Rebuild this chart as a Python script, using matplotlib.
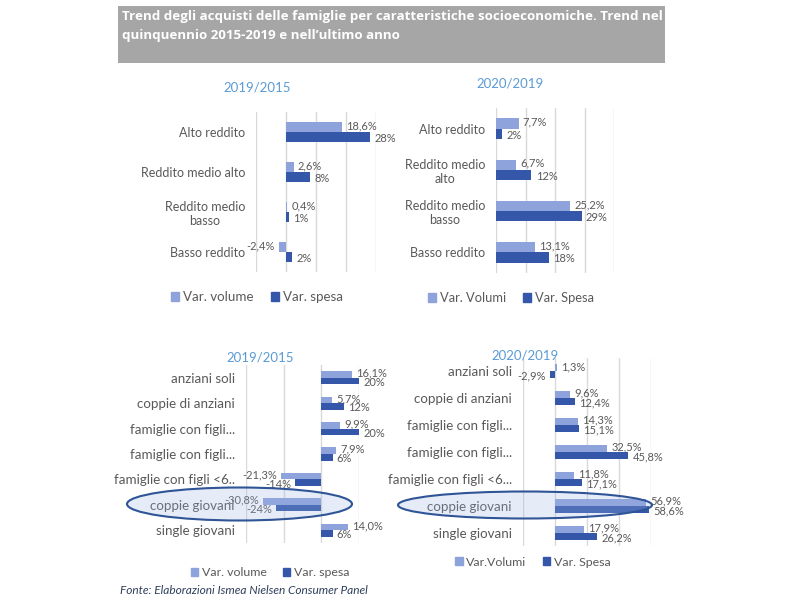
import matplotlib
matplotlib.use("Agg")
import matplotlib.pyplot as plt
from matplotlib.patches import Rectangle, Ellipse, Patch

plt.rcParams['font.family'] = ['Lato', 'DejaVu Sans']

# ---------------- data ----------------
title_text = ("Trend degli acquisti delle famiglie per caratteristiche socioeconomiche. Trend nel\n"
              "quinquennio 2015-2019 e nell\u2019ultimo anno")
source_text = "Fonte: Elaborazioni Ismea Nielsen Consumer Panel"

income_cats_tl = ["Alto reddito", "Reddito medio alto", "Reddito medio\nbasso", "Basso reddito"]
income_cats_tr = ["Alto reddito", "Reddito medio\nalto", "Reddito medio\nbasso", "Basso reddito"]
income_vol_1915 = [18.6, 2.6, 0.4, -2.4]
income_sp_1915 = [28, 8, 1, 2]
income_vol_2019 = [7.7, 6.7, 25.2, 13.1]
income_sp_2019 = [2, 12, 29, 18]

family_cats_bl = ["anziani soli", "coppie di anziani", "famiglie con figli...", "famiglie con figli...",
                  "famiglie con figli <6..", "coppie giovani", "single giovani"]
family_cats_br = ["anziani soli", "coppie di anziani", "famiglie con figli...", "famiglie con figli...",
                  "famiglie con figli <6...", "coppie giovani", "single giovani"]
family_vol_1915 = [16.1, 5.7, 9.9, 7.9, -21.3, -30.8, 14.0]
family_sp_1915 = [20, 12, 20, 6, -14, -24, 6]
family_vol_2019 = [1.3, 9.6, 14.3, 32.5, 11.8, 56.9, 17.9]
family_sp_2019 = [-2.9, 12.4, 15.1, 45.8, 17.1, 58.6, 26.2]

panel_titles = ["2019/2015", "2020/2019", "2019/2015", "2020/2019"]
legend_labels = [("Var. volume", "Var. spesa"), ("Var. Volumi", "Var. Spesa"),
                 ("Var. volume", "Var. spesa"), ("Var.Volumi", "Var. Spesa")]

# ---------------- style ----------------
LIGHT = "#8EA2DC"
DARK = "#3557AA"
GRID = "#D9D9D9"
TXT = "#595959"
TITLE_BLUE = "#5B9BD5"

W, H = 800, 600
fig = plt.figure(figsize=(8, 6), dpi=100)
fig.patch.set_facecolor("white")


def fx(x):
    return x / W


def fy(y):
    return 1 - y / H


def fmt(v, dec):
    return (f"{v:.{dec}f}%").replace(".", ",")


def panel(box, cats, vol, sp, xlim, step, ptitle, title_xy, leg, leg_xy, sp_dec, bh,
          cat_fs, leg_fs):
    x0, y0, x1, y1 = box
    ax = fig.add_axes([fx(x0), fy(y1), fx(x1) - fx(x0), (y1 - y0) / H])
    n = len(cats)
    ys = list(range(n))
    ax.barh([y - bh / 2 for y in ys], vol, height=bh, color=LIGHT, zorder=3)
    ax.barh([y + bh / 2 for y in ys], sp, height=bh, color=DARK, zorder=3)
    for y, v in zip(ys, vol):
        ax.annotate(fmt(v, 1), (v, y - bh / 2), xytext=(3 if v >= 0 else -3, 1),
                    textcoords="offset points", ha="left" if v >= 0 else "right",
                    va="center", fontsize=8, color=TXT, annotation_clip=False, zorder=5)
    for y, v in zip(ys, sp):
        ax.annotate(fmt(v, sp_dec), (v, y + bh / 2), xytext=(3 if v >= 0 else -3, -1),
                    textcoords="offset points", ha="left" if v >= 0 else "right",
                    va="center", fontsize=8, color=TXT, annotation_clip=False, zorder=5)
    ax.set_ylim(n - 0.5, -0.5)
    ax.set_xlim(*xlim)
    ticks = list(range(xlim[0], xlim[1] + 1, step))
    ax.set_xticks(ticks)
    ax.set_xticklabels([])
    ax.tick_params(axis="x", length=0)
    ax.grid(axis="x", color=GRID, lw=1, zorder=0)
    ax.set_yticks(ys)
    ax.set_yticklabels(cats, fontsize=cat_fs, color=TXT, multialignment="center")
    ax.tick_params(axis="y", length=0, pad=8)
    for s in ax.spines.values():
        s.set_visible(False)
    ax.set_facecolor("none")
    fig.text(fx(title_xy[0]), fy(title_xy[1]), ptitle, ha="center", va="center",
             fontsize=9.5, color=TITLE_BLUE)
    handles = [Patch(color=LIGHT), Patch(color=DARK)]
    fig.legend(handles, leg, loc="center", bbox_to_anchor=(fx(leg_xy[0]), fy(leg_xy[1])),
               ncol=2, frameon=False, fontsize=leg_fs, labelcolor=TXT,
               handlelength=0.6, handleheight=0.6, handletextpad=0.3, columnspacing=1.3)
    return ax


# title box
fig.patches.append(Rectangle((fx(118), fy(63)), fx(665) - fx(118), (63 - 6) / H,
                             transform=fig.transFigure, facecolor="#A6A6A6",
                             edgecolor="none", zorder=0))
fig.text(fx(122), fy(10), title_text, ha="left", va="top", fontsize=9.6,
         fontweight="bold", color="white", linespacing=1.6, family=["Open Sans", "DejaVu Sans"])

panel((256, 112, 376, 272), income_cats_tl, income_vol_1915, income_sp_1915,
      (-10, 30), 10, panel_titles[0], (257, 87), legend_labels[0], (257, 297), 0, 0.25, 9, 9.6)
panel((496, 108, 614, 273), income_cats_tr, income_vol_2019, income_sp_2019,
      (0, 40), 10, panel_titles[1], (510, 84), legend_labels[1], (511, 298), 0, 0.25, 9, 9.3)
panel((246, 365, 359, 543), family_cats_bl, family_vol_1915, family_sp_1915,
      (-40, 20), 20, panel_titles[2], (260, 357), legend_labels[2], (270, 573), 0, 0.26, 9.6, 8.9)
panel((523, 358, 651, 546), family_cats_br, family_vol_2019, family_sp_2019,
      (-20, 60), 20, panel_titles[3], (525, 355), legend_labels[3], (533, 562), 1, 0.26, 9.6, 8.9)

# highlight ellipses
for cx, cy, w, h in [((127 + 352) / 2, 504, 352 - 127, 33), ((398 + 652) / 2, 505, 652 - 398, 27)]:
    e = Ellipse((fx(cx), fy(cy)), w / W, h / H, transform=fig.transFigure,
                facecolor=(0.6, 0.7, 0.88, 0.25), edgecolor="#2F5597", lw=1.5, zorder=10)
    fig.patches.append(e)

fig.text(fx(120), fy(590), source_text, ha="left", va="center", fontsize=8.6,
         style="italic", color="#2E3F5C")

fig.savefig("out.png", dpi=100)
